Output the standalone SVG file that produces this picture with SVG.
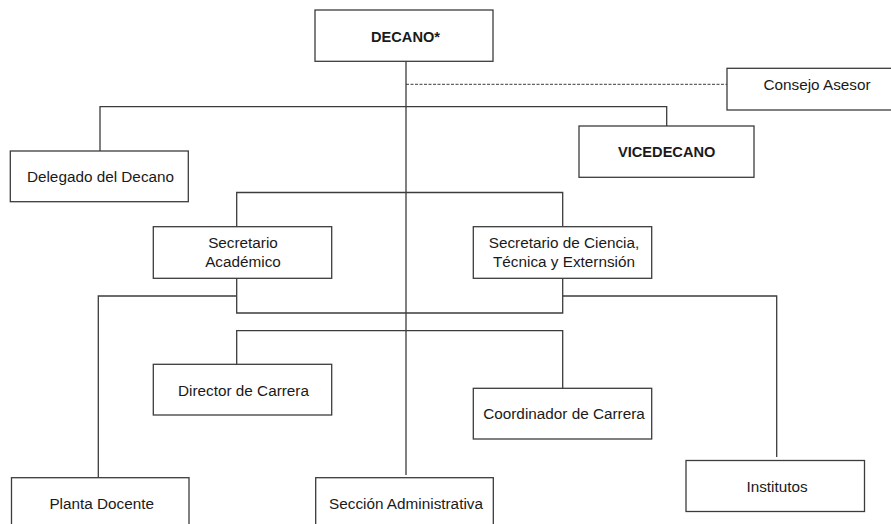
<svg xmlns="http://www.w3.org/2000/svg" width="891" height="524" viewBox="0 0 891 524">
<style>
  .box { fill: #ffffff; stroke: #3c3c3c; stroke-width: 1.3; }
  .lbl { font-family: "Liberation Sans", Arial, sans-serif; font-size: 15.3px; fill: #1a1a1a; text-anchor: middle; }
  .bold { font-weight: bold; font-size: 14.6px; }
  .conn { fill: none; stroke: #3c3c3c; stroke-width: 1.3; }
  .dash { fill: none; stroke: #3c3c3c; stroke-width: 1; stroke-dasharray: 3 1.5; }
</style>
<rect x="0" y="0" width="891" height="524" fill="#ffffff"/>
<g id="connectors">
  <path class="conn" d="M406 61.3 V475"/>
  <path class="dash" d="M406 84.3 H727"/>
  <path class="conn" d="M100 151 V106.7 H666.7 V126"/>
  <path class="conn" d="M236.7 226.7 V192.5 H562.7 V226.7"/>
  <path class="conn" d="M236.7 278.3 V313 H562.7 V278.3"/>
  <path class="conn" d="M236.7 296 H98.3 V477.7"/>
  <path class="conn" d="M562.7 296 H776.7 V457"/>
  <path class="conn" d="M236.7 364.3 V330.7 H562.7 V388.3"/>
</g>
<g id="decano">
  <rect class="box" x="315" y="10" width="178" height="51.3"/>
  <text class="lbl bold" x="405.5" y="41.5">DECANO*</text>
</g>
<g id="consejo-asesor">
  <rect class="box" x="727" y="68.3" width="179" height="41.7"/>
  <text class="lbl" x="817" y="90">Consejo Asesor</text>
</g>
<g id="vicedecano">
  <rect class="box" x="579" y="126" width="175" height="51.3"/>
  <text class="lbl bold" x="666.7" y="157">VICEDECANO</text>
</g>
<g id="delegado">
  <rect class="box" x="10.3" y="151" width="178" height="50.7"/>
  <text class="lbl" x="100.5" y="182">Delegado del Decano</text>
</g>
<g id="secretario-academico">
  <rect class="box" x="153.3" y="226.7" width="178.4" height="51.6"/>
  <text class="lbl" x="243" y="248.3">Secretario</text>
  <text class="lbl" x="243" y="266.7">Académico</text>
</g>
<g id="secretario-ciencia">
  <rect class="box" x="473.3" y="226.7" width="178.4" height="51.6"/>
  <text class="lbl" x="564" y="248.3">Secretario de Ciencia,</text>
  <text class="lbl" x="564" y="267">Técnica y Externsión</text>
</g>
<g id="director-carrera">
  <rect class="box" x="153.3" y="364.3" width="178.4" height="50.7"/>
  <text class="lbl" x="243.5" y="395.5">Director de Carrera</text>
</g>
<g id="coordinador-carrera">
  <rect class="box" x="473.3" y="388.3" width="178.4" height="50.7"/>
  <text class="lbl" x="564" y="419">Coordinador de Carrera</text>
</g>
<g id="institutos">
  <rect class="box" x="686" y="460.5" width="178.5" height="51"/>
  <text class="lbl" x="777" y="491.5">Institutos</text>
</g>
<g id="planta-docente">
  <rect class="box" x="11.5" y="477.7" width="177.5" height="60"/>
  <text class="lbl" x="101.7" y="509">Planta Docente</text>
</g>
<g id="seccion-administrativa">
  <rect class="box" x="315.7" y="477.7" width="177.6" height="60"/>
  <text class="lbl" x="406" y="509">Sección Administrativa</text>
</g>
</svg>
